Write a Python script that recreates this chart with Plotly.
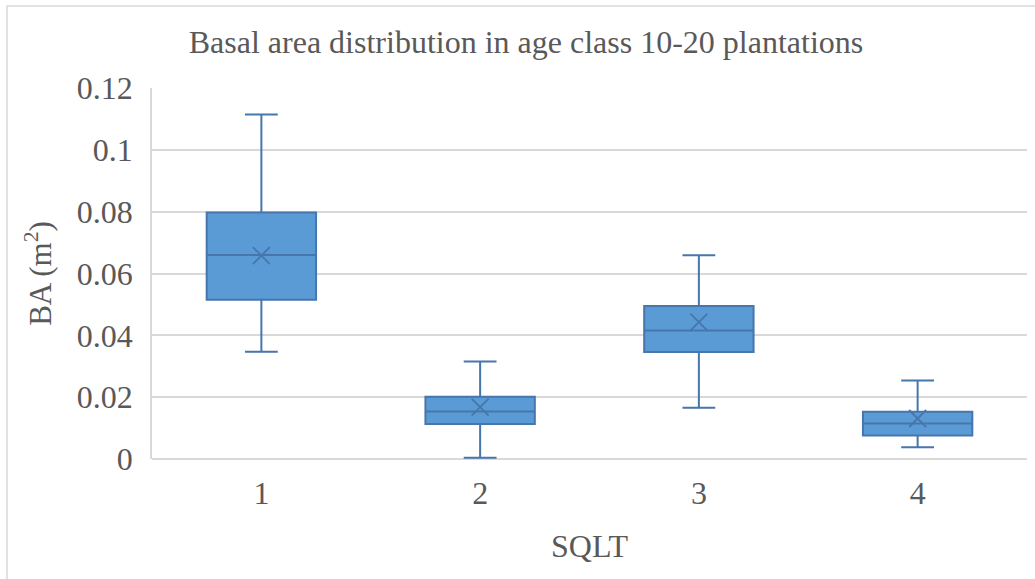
import plotly.graph_objects as go

# Basal area summary statistics per SQLT class (m²)
categories = ["1", "2", "3", "4"]
lower_whisker = [0.0347, 0.0004, 0.0166, 0.0038]
q1_values = [0.0515, 0.0113, 0.0346, 0.0076]
median_values = [0.0660, 0.0154, 0.0416, 0.0115]
q3_values = [0.0797, 0.0201, 0.0495, 0.0153]
upper_whisker = [0.1114, 0.0315, 0.0659, 0.0254]
mean_values = [0.0658, 0.0168, 0.0443, 0.0131]

y_ticks = [0, 0.02, 0.04, 0.06, 0.08, 0.1, 0.12]
y_tick_text = ["0", "0.02", "0.04", "0.06", "0.08", "0.1", "0.12"]

FILL = "#5B9BD5"
EDGE = "#4676AC"
GRID = "#D9D9D9"
TEXT = "#595959"
FONT = "Liberation Serif, Times New Roman, serif"

fig = go.Figure()

fig.add_trace(go.Box(
    x=categories,
    q1=q1_values,
    median=median_values,
    q3=q3_values,
    lowerfence=lower_whisker,
    upperfence=upper_whisker,
    fillcolor=FILL,
    line=dict(color=EDGE, width=2),
    width=0.5,
    whiskerwidth=0.3,
    boxpoints=False,
    hoverinfo="skip",
    showlegend=False,
))

# Mean markers drawn as crosses
fig.add_trace(go.Scatter(
    x=categories,
    y=mean_values,
    mode="markers",
    marker=dict(symbol="x-thin", size=17, line=dict(color=EDGE, width=1.8)),
    showlegend=False,
    hoverinfo="skip",
))

# Outer chart frame (left and top edges visible)
fig.add_shape(
    type="rect", xref="paper", yref="paper",
    x0=(7 - 152) / 875, x1=(1045 - 152) / 875,
    y0=(459 - 590) / 371, y1=(459 - 6) / 371,
    line=dict(color=GRID, width=1.5), fillcolor="rgba(0,0,0,0)", layer="below",
)

fig.update_layout(
    width=1035,
    height=579,
    margin=dict(l=152, r=8, t=88, b=120),
    paper_bgcolor="white",
    plot_bgcolor="white",
    font=dict(family=FONT, color=TEXT, size=32),
    title=dict(
        text="Basal area distribution in age class 10-20 plantations",
        font=dict(family=FONT, size=32, color=TEXT),
        x=526 / 1035, xref="container", xanchor="center",
        y=1 - 42 / 579, yref="container", yanchor="middle",
    ),
    xaxis=dict(
        type="category",
        range=[-0.5, 3.5],
        showgrid=False,
        showline=False,
        zeroline=False,
        ticks="",
        ticklabelstandoff=12,
        tickfont=dict(family=FONT, size=32, color=TEXT),
        title=dict(text="SQLT", font=dict(family=FONT, size=32, color=TEXT), standoff=24),
    ),
    yaxis=dict(
        range=[0, 0.12],
        tickvals=y_ticks,
        ticktext=y_tick_text,
        showgrid=True,
        gridcolor=GRID,
        gridwidth=1.5,
        zeroline=True,
        zerolinecolor=GRID,
        zerolinewidth=1.5,
        showline=True,
        linecolor=GRID,
        linewidth=1.5,
        ticks="",
        ticklabelstandoff=11,
        tickfont=dict(family=FONT, size=32, color=TEXT),
        title=dict(
            text="BA (m<sup>2</sup>)",
            font=dict(family=FONT, size=31, color=TEXT),
            standoff=16,
        ),
    ),
)

fig.write_html("out.html")
